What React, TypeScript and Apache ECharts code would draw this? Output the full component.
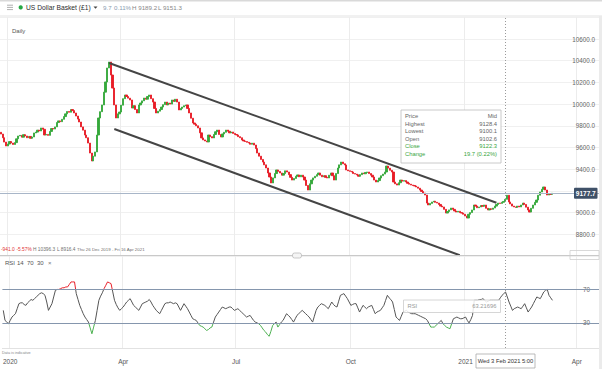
import React, { useEffect, useRef } from 'react';
import * as echarts from 'echarts';

// ---- data (US Dollar Basket, daily closes) ----
const closes: number[] = [
  9724, 9690, 9650, 9614, 9632, 9655, 9641, 9628, 9645, 9680,
  9706, 9712, 9695, 9718, 9706, 9690, 9702, 9685, 9697, 9734,
  9742, 9760, 9752, 9780, 9768, 9715, 9720, 9712, 9748, 9775,
  9770, 9790, 9830, 9845, 9838, 9860, 9885, 9910, 9932, 9925,
  9950, 9940, 9918, 9890, 9862, 9835, 9790, 9760, 9715, 9690,
  9641, 9549, 9476, 9520, 9559, 9715, 9872, 9930, 9992, 10110,
  10204, 10333, 10388, 10268, 10148, 9992, 9872, 9910, 9927, 9990,
  10050, 10084, 10070, 10055, 10038, 9964, 9985, 9950, 9918, 9992,
  10010, 10030, 10056, 10045, 10070, 10084, 10050, 10019, 9960, 9918,
  9935, 9950, 9973, 9995, 10019, 9992, 10010, 10000, 10038, 10025,
  10045, 10019, 9946, 9960, 9973, 9985, 9992, 9960, 9918, 9870,
  9826, 9815, 9800, 9780, 9735, 9688, 9670, 9660, 9651, 9715,
  9700, 9688, 9720, 9745, 9761, 9720, 9697, 9725, 9740, 9761,
  9750, 9735, 9743, 9730, 9720, 9715, 9700, 9690, 9669, 9660,
  9655, 9648, 9641, 9630, 9640, 9623, 9590, 9549, 9520, 9490,
  9466, 9440, 9411, 9365, 9328, 9273, 9320, 9360, 9393, 9380,
  9365, 9345, 9360, 9385, 9374, 9350, 9325, 9300, 9315, 9335,
  9347, 9330, 9345, 9328, 9300, 9250, 9208, 9265, 9300, 9320,
  9335, 9350, 9365, 9345, 9330, 9340, 9325, 9319, 9345, 9365,
  9340, 9300, 9360, 9411, 9440, 9466, 9450, 9439, 9393, 9385,
  9380, 9374, 9360, 9355, 9347, 9335, 9350, 9365, 9358, 9370,
  9374, 9360, 9345, 9328, 9300, 9282, 9295, 9319, 9340, 9355,
  9374, 9429, 9410, 9390, 9374, 9282, 9265, 9254, 9275, 9300,
  9290, 9295, 9282, 9270, 9262, 9254, 9250, 9245, 9236, 9225,
  9208, 9195, 9180, 9162, 9088, 9070, 9085, 9098, 9105, 9095,
  9088, 9075, 9060, 9052, 9030, 8996, 9010, 9025, 9042, 9030,
  9015, 9005, 9012, 9000, 8996, 8985, 8969, 8950, 8985, 9000,
  9024, 9070, 9060, 9045, 9052, 9065, 9058, 9070, 9040, 9024,
  9035, 9030, 9042, 9060, 9075, 9088, 9085, 9095, 9102.6, 9122.3,
  9160, 9098, 9080, 9060, 9052, 9048, 9060, 9052, 9070, 9088,
  9075, 9050, 9024, 9005, 9040, 9070, 9095, 9116, 9160, 9190,
  9215, 9236, 9208, 9162, 9170, 9168, 9177.7,
];
const firstOpen = 9740;

const rsi14: number[] = [
  45, 33, 31, 29, 33, 37, 39, 41, 47, 53,
  54, 54, 52, 51, 54, 56, 58, 57, 59, 61,
  63, 65, 66, 65, 63, 55, 45, 49, 53, 61,
  69, 70, 70, 71, 72, 72, 73, 73, 76, 79,
  79, 79, 65, 58, 51, 46, 41, 37, 34, 31,
  24, 17, 25, 33, 45, 57, 62, 66, 71, 75,
  79, 78, 77, 67, 57, 52, 48, 45, 47, 49,
  52, 55, 57, 59, 55, 51, 49, 47, 45, 49,
  53, 54, 55, 56, 58, 55, 51, 48, 45, 43,
  41, 45, 49, 53, 54, 54, 55, 54, 53, 54,
  53, 49, 45, 49, 53, 50, 47, 43, 39, 35,
  34, 33, 30, 27, 26, 25, 23, 21, 22, 24,
  25, 31, 37, 40, 43, 46, 49, 48, 47, 48,
  49, 49, 47, 45, 46, 47, 45, 43, 41, 39,
  37, 38, 39, 36, 33, 31, 30, 29, 27, 24,
  21, 19, 16, 14, 20, 27, 29, 31, 25, 28,
  31, 33, 37, 41, 39, 37, 34, 31, 35, 39,
  41, 43, 45, 43, 41, 39, 37, 34, 31, 38,
  45, 49, 51, 53, 52, 51, 49, 47, 51, 55,
  52, 50, 49, 56, 63, 64, 65, 62, 59, 55,
  51, 52, 53, 53, 48, 43, 47, 51, 49, 47,
  49, 50, 51, 46, 41, 43, 44, 45, 48, 51,
  57, 63, 60, 58, 55, 46, 37, 35, 33, 38,
  43, 44, 45, 43, 42, 41, 41, 41, 40, 39,
  38, 37, 36, 35, 33, 29, 25, 25, 25, 27,
  29, 31, 33, 29, 27, 25, 24, 23, 29, 35,
  36, 37, 36, 35, 35, 36, 37, 33, 30, 34,
  39, 57, 57, 57, 58, 58, 59, 57, 55, 56,
  57, 57, 57, 57, 57, 57, 60, 63, 65, 67,
  61, 55, 50, 45, 47, 48, 49, 48, 47, 50,
  53, 48, 43, 46, 49, 53, 57, 61, 60, 59,
  63, 67, 69, 70, 63, 60, 57,
];

const startDate = '2019-12-26';
const sessionCount = 345;
const quarterLabels: Record<string, string> = {
  '2020-01-01': '2020',
  '2020-04-01': 'Apr',
  '2020-07-01': 'Jul',
  '2020-10-01': 'Oct',
  '2021-01-01': '2021',
  '2021-04-01': 'Apr',
};
const priceMin = 8600;
const priceMax = 10800;
const priceStep = 200;
const rsiLevels = [70, 30];
const lastPrice = 9177.7;
const crosshairDate = '2021-02-03';
const upperChannel: [number, number][] = [[62, 10379], [284, 9091]];
const lowerChannel: [number, number][] = [[65, 9770], [263, 8607]];

const FONT = 'Liberation Sans, Arial, sans-serif';
const UP = '#35a83b';
const DOWN = '#e81c26';

function tradingDays(start: string, n: number): string[] {
  const out: string[] = [];
  const d = new Date(start + 'T00:00:00Z');
  while (out.length < n) {
    const wd = d.getUTCDay();
    if (wd !== 0 && wd !== 6) out.push(d.toISOString().slice(0, 10));
    d.setUTCDate(d.getUTCDate() + 1);
  }
  return out;
}

const txt = (x: number, y: number, text: string, size: number, fill: string, align = 'left', weight = 'normal') => ({
  type: 'text', x, y, z: 100, silent: true,
  style: { text, fill, fontSize: size, fontFamily: FONT, fontWeight: weight, textAlign: align, textVerticalAlign: 'middle' },
});

function staticGraphics() {
  const g: any[] = [];
  g.push({ type: 'rect', z: 100, silent: true, shape: { x: 0, y: 0, width: 602, height: 1.5 }, style: { fill: '#d9d9d9' } });
  [5.2, 7.4, 9.6].forEach((y) =>
    g.push({ type: 'line', z: 100, silent: true, shape: { x1: 7, y1: y, x2: 13, y2: y }, style: { stroke: '#9a9a9a', lineWidth: 0.8 } })
  );
  g.push({ type: 'circle', z: 100, silent: true, shape: { cx: 20.7, cy: 7.4, r: 2.1 }, style: { fill: '#27a844' } });
  g.push(txt(26, 7.6, 'US Dollar Basket (£1)', 6.7, '#2d2d2d'));
  g.push({ type: 'polygon', z: 100, silent: true, shape: { points: [[93.5, 6.4], [97.5, 6.4], [95.5, 8.8]] }, style: { fill: '#444' } });
  g.push(txt(103, 7.6, '9.7', 6.2, '#8a9bb0'));
  g.push(txt(114, 7.6, '0.11%', 6.2, '#8a9bb0'));
  g.push(txt(132, 7.6, 'H 9189.2', 6.2, '#888'));
  g.push(txt(158, 7.6, 'L 9151.3', 6.2, '#888'));
  g.push({ type: 'line', z: 100, silent: true, shape: { x1: 0, y1: 16, x2: 602, y2: 16 }, style: { stroke: '#e3e3e3', lineWidth: 1 } });
  g.push(txt(12, 31, 'Daily', 6, '#555'));
  // footer stats of price pane
  g.push(txt(1, 249.5, '-941.0', 4.8, '#e0302f'));
  g.push(txt(16.5, 249.5, '-5.57%', 4.8, '#e0302f'));
  g.push(txt(33, 249.5, 'H 10396.3', 4.8, '#6f6f6f'));
  g.push(txt(57, 249.5, 'L 8916.4', 4.8, '#6f6f6f'));
  g.push(txt(77, 249.5, 'Thu 26 Dec 2019 - Fri 16 Apr 2021', 4.4, '#6f6f6f'));
  g.push({ type: 'line', z: 100, silent: true, shape: { x1: 0, y1: 255.5, x2: 602, y2: 255.5 }, style: { stroke: '#c9c9c9', lineWidth: 1 } });
  g.push({ type: 'rect', z: 101, silent: true, shape: { x: 292.5, y: 253, width: 9, height: 5, r: 2 }, style: { fill: '#f5f5f5', stroke: '#bbb', lineWidth: 0.8 } });
  g.push({ type: 'rect', z: 101, silent: true, shape: { x: 570, y: 250.5, width: 29, height: 9 }, style: { fill: 'none', stroke: '#cfcfcf', lineWidth: 0.8 } });
  // RSI legend
  g.push(txt(5, 263, 'RSI', 6, '#555'));
  g.push(txt(17, 263, '14', 6, '#555'));
  g.push(txt(27, 263, '70', 6, '#555'));
  g.push(txt(37, 263, '30', 6, '#555'));
  g.push(txt(48, 263, '×', 6, '#777'));
  // info box
  g.push({ type: 'rect', z: 100, silent: true, shape: { x: 401, y: 110, width: 100, height: 53 }, style: { fill: '#ffffff', stroke: '#bdbdbd', lineWidth: 0.8 } });
  const rows: [string, string, string][] = [
    ['Price', 'Mid', '#666'],
    ['Highest', '9128.4', '#666'],
    ['Lowest', '9100.1', '#666'],
    ['Open', '9102.6', '#666'],
    ['Close', '9122.3', '#3aa640'],
    ['Change', '19.7 (0.22%)', '#3aa640'],
  ];
  rows.forEach((r, k) => {
    const y = 116 + k * 7.6;
    g.push(txt(405, y, r[0], 5.8, r[2]));
    g.push(txt(497, y, r[1], 5.8, r[2], 'right'));
  });
  // RSI value box
  g.push({ type: 'rect', z: 100, silent: true, shape: { x: 403.5, y: 300, width: 97, height: 12.5 }, style: { fill: 'rgba(255,255,255,0.85)', stroke: '#cccccc', lineWidth: 0.8 } });
  g.push(txt(407.5, 306.3, 'RSI', 5.8, '#9a9a9a'));
  g.push(txt(496.5, 306.3, '63.21696', 5.8, '#9a9a9a', 'right'));
  g.push(txt(2, 353, 'Data is indicative', 3.8, '#888'));
  // date box
  g.push({ type: 'rect', z: 100, silent: true, shape: { x: 476, y: 354, width: 59, height: 14 }, style: { fill: '#ffffff', stroke: '#aaaaaa', lineWidth: 0.8 } });
  g.push(txt(505.5, 361.2, 'Wed 3 Feb 2021 5:00', 5.8, '#333', 'center'));
  g.push({ type: 'rect', z: 100, silent: true, shape: { x: 599, y: 16, width: 3, height: 353 }, style: { fill: '#ebebeb' } });
  return g;
}

export default function App() {
  const ref = useRef<HTMLDivElement>(null);
  useEffect(() => {
    document.body.style.margin = '0';
    const dates = tradingDays(startDate, sessionCount);
    const candles = closes.map((c, i) => {
      const o = i === 0 ? firstOpen : closes[i - 1];
      return [o, c, Math.min(o, c), Math.max(o, c)];
    });
    const isQuarter = (_i: number, v: string) => quarterLabels[v] !== undefined;
    const chart = echarts.init(ref.current!, undefined, { renderer: 'svg', width: 602, height: 369 });
    const option: any = {
      animation: false,
      backgroundColor: '#ffffff',
      textStyle: { fontFamily: FONT },
      grid: [
        { left: 0, right: 0, top: 17.3, height: 238.7 },
        { left: 0, right: 0, top: 256, height: 92 },
      ],
      xAxis: [
        {
          type: 'category', gridIndex: 0, data: dates, boundaryGap: true,
          axisLine: { show: false }, axisTick: { show: false }, axisLabel: { show: false },
          splitLine: { show: true, interval: isQuarter, lineStyle: { color: '#ececec', width: 1 } },
        },
        {
          type: 'category', gridIndex: 1, data: dates, boundaryGap: true,
          axisLine: { show: true, lineStyle: { color: '#e2e2e2' } }, axisTick: { show: false },
          axisLabel: { show: true, interval: isQuarter, formatter: (v: string) => quarterLabels[v] ?? '', color: '#555', fontSize: 6.5, margin: 10 },
          splitLine: { show: true, interval: isQuarter, lineStyle: { color: '#ececec', width: 1 } },
        },
      ],
      yAxis: [
        {
          type: 'value', gridIndex: 0, position: 'right', min: priceMin, max: priceMax, interval: priceStep,
          axisLine: { show: false }, axisTick: { show: false },
          axisLabel: {
            inside: true, margin: 7, color: '#666', fontSize: 6.3, showMinLabel: false, showMaxLabel: false,
            formatter: (v: number) => (Math.abs(v - lastPrice) < priceStep / 2 ? '' : v.toFixed(1)),
          },
          splitLine: { show: true, lineStyle: { color: '#f0f0f0', width: 1 } },
        },
        {
          type: 'value', gridIndex: 1, position: 'right', min: 0, max: 110, interval: 10,
          axisLine: { show: false }, axisTick: { show: false },
          axisLabel: { inside: true, margin: 12, color: '#666', fontSize: 6.3, formatter: (v: number) => (rsiLevels.includes(v) ? String(v) : '') },
          splitLine: { show: false },
        },
      ],
      visualMap: {
        type: 'piecewise', show: false, seriesIndex: 1, dimension: 1,
        pieces: [
          { lt: 30, color: '#4cb050' },
          { gte: 30, lte: 70, color: '#555555' },
          { gt: 70, color: '#e8202a' },
        ],
      },
      series: [
        {
          type: 'candlestick', xAxisIndex: 0, yAxisIndex: 0, data: candles, barWidth: 1.7,
          itemStyle: { color: UP, color0: DOWN, borderColor: UP, borderColor0: DOWN, borderWidth: 0.9 },
          markLine: {
            silent: true, symbol: 'none', animation: false, label: { show: false },
            lineStyle: { color: '#454545', width: 2, type: 'solid' },
            data: [
              { yAxis: lastPrice, lineStyle: { color: '#a8b6c8', width: 1, type: 'solid' } },
              { xAxis: crosshairDate, lineStyle: { color: '#9a9a9a', width: 1, type: [1, 2] } },
              [
                { coord: [dates[upperChannel[0][0]], upperChannel[0][1]], lineStyle: { color: '#454545', width: 2, type: 'solid' } },
                { coord: [dates[upperChannel[1][0]], upperChannel[1][1]], lineStyle: { color: '#454545', width: 2, type: 'solid' } },
              ],
              [
                { coord: [dates[lowerChannel[0][0]], lowerChannel[0][1]], lineStyle: { color: '#454545', width: 2, type: 'solid' } },
                { coord: [dates[lowerChannel[1][0]], lowerChannel[1][1]], lineStyle: { color: '#454545', width: 2, type: 'solid' } },
              ],
            ],
          },
        },
        {
          type: 'line', xAxisIndex: 1, yAxisIndex: 1, data: rsi14, symbol: 'none',
          lineStyle: { width: 1 },
          markLine: {
            silent: true, symbol: 'none', animation: false, label: { show: false },
            data: [
              { yAxis: rsiLevels[0], lineStyle: { color: '#8596ad', width: 1, type: 'solid' } },
              { yAxis: rsiLevels[1], lineStyle: { color: '#8596ad', width: 1, type: 'solid' } },
              { xAxis: crosshairDate, lineStyle: { color: '#9a9a9a', width: 1, type: [1, 2] } },
            ],
          },
        },
      ],
    };
    chart.setOption(option);
    const tagY = chart.convertToPixel({ yAxisIndex: 0 } as any, lastPrice) as unknown as number;
    const tag = {
      type: 'group', x: 574, y: tagY - 5.5, z: 110,
      children: [
        { type: 'rect', z: 110, silent: true, shape: { x: 0, y: 0, width: 23.5, height: 11, r: 1 }, style: { fill: '#3f5168' } },
        { type: 'text', z: 111, silent: true, x: 11.75, y: 5.7, style: { text: lastPrice.toFixed(1), fill: '#ffffff', fontSize: 6.5, fontWeight: 'bold', fontFamily: FONT, textAlign: 'center', textVerticalAlign: 'middle' } },
      ],
    };
    chart.setOption({ graphic: [...staticGraphics(), tag] });
    return () => chart.dispose();
  }, []);
  return <div ref={ref} style={{ width: 602, height: 369 }} />;
}
